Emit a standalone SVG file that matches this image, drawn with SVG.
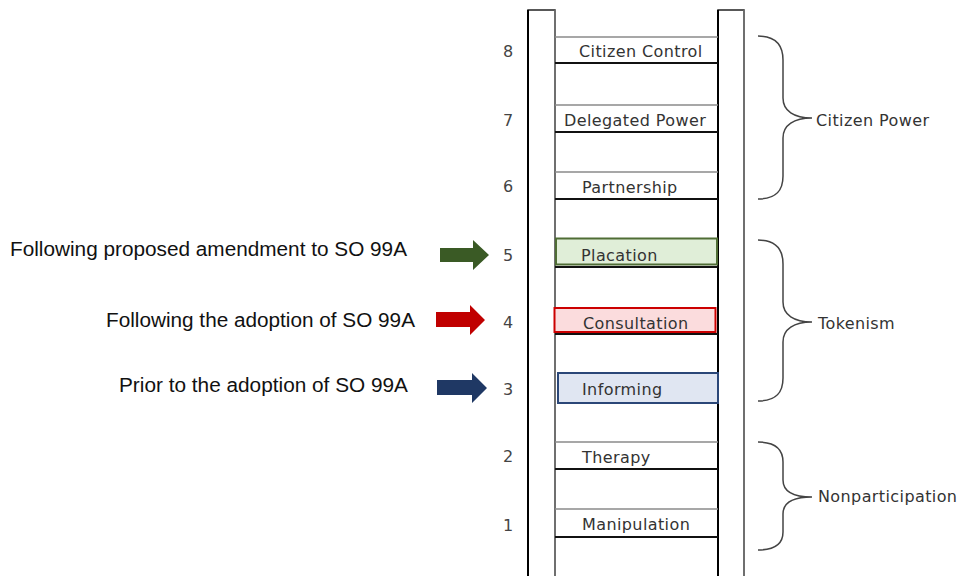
<svg xmlns="http://www.w3.org/2000/svg" width="962" height="576" viewBox="0 0 962 576">
<style>
.rail{fill:#fff;stroke:#222;stroke-width:1.5}
.rtop{stroke:#8a8a8a;stroke-width:1.5}
.rbot{stroke:#111;stroke-width:2.2}
.lbl{font-family:"DejaVu Sans",sans-serif;font-size:16px;fill:#333;letter-spacing:0.4px}
.num{font-family:"DejaVu Sans",sans-serif;font-size:16px;fill:#444;text-anchor:middle}
.side{font-family:"Liberation Sans",Arial,sans-serif;font-size:19.5px;fill:#111}
.brace{fill:none;stroke:#444;stroke-width:1.5}
</style>
<rect width="962" height="576" fill="#fff"/>
<g id="ladder">
<rect class="rail" x="528" y="10" width="27" height="580"/>
<rect class="rail" x="718" y="10" width="26" height="580"/>
<line x1="528" y1="10" x2="528" y2="576" stroke="#000" stroke-width="2"/>
<line x1="718" y1="10" x2="718" y2="576" stroke="#000" stroke-width="2"/>
<line x1="744" y1="10" x2="744" y2="576" stroke="#777" stroke-width="1.5"/>
<line x1="555" y1="10" x2="555" y2="576" stroke="#777" stroke-width="1.5"/>
</g>
<g id="rung8">
<line class="rtop" x1="555" y1="37" x2="718" y2="37"/>
<line class="rbot" x1="555" y1="63" x2="718" y2="63"/>
<text class="num" x="508" y="57">8</text>
<text class="lbl" x="579" y="57">Citizen Control</text>
</g>
<g id="rung7">
<line class="rtop" x1="555" y1="105" x2="718" y2="105"/>
<line class="rbot" x1="555" y1="132" x2="718" y2="132"/>
<text class="num" x="508" y="126">7</text>
<text class="lbl" x="564" y="126">Delegated Power</text>
</g>
<g id="rung6">
<line class="rtop" x1="555" y1="172" x2="718" y2="172"/>
<line class="rbot" x1="555" y1="199" x2="718" y2="199"/>
<text class="num" x="508" y="192">6</text>
<text class="lbl" x="582" y="193">Partnership</text>
</g>
<g id="rung5">
<rect x="556" y="238.5" width="161" height="26" fill="#e0eed8" stroke="#4f6d35" stroke-width="2"/>
<line class="rbot" x1="555" y1="267" x2="718" y2="267"/>
<text class="num" x="508" y="261">5</text>
<text class="lbl" x="581" y="261">Placation</text>
</g>
<g id="rung4">
<rect x="554.5" y="308" width="161" height="24" fill="#fbdcdd" stroke="#cc0000" stroke-width="2"/>
<line class="rbot" x1="555" y1="334" x2="718" y2="334"/>
<text class="num" x="508" y="328">4</text>
<text class="lbl" x="583" y="329">Consultation</text>
</g>
<g id="rung3">
<rect x="558" y="373" width="160" height="30" fill="#e0e6f2" stroke="#2b4778" stroke-width="2"/>
<text class="num" x="508" y="395">3</text>
<text class="lbl" x="582" y="395">Informing</text>
</g>
<g id="rung2">
<line class="rtop" x1="555" y1="442" x2="718" y2="442"/>
<line class="rbot" x1="555" y1="469" x2="718" y2="469"/>
<text class="num" x="508" y="462">2</text>
<text class="lbl" x="582" y="463">Therapy</text>
</g>
<g id="rung1">
<line class="rtop" x1="555" y1="509" x2="718" y2="509"/>
<line class="rbot" x1="555" y1="537" x2="718" y2="537"/>
<text class="num" x="508" y="531">1</text>
<text class="lbl" x="582" y="530">Manipulation</text>
</g>
<g id="connectors">
<path class="brace" d="M758,36 C776,36 783,45 783,60 L783,98 C783,111 794,118 812,118 C794,118 783,125 783,138 L783,176 C783,191 776,199 758,199"/>
<path class="brace" d="M758,240 C776,240 783,249 783,264 L783,302 C783,315 794,322 812,322 C794,322 783,329 783,342 L783,378 C783,393 776,401 758,401"/>
<path class="brace" d="M758,442 C776,442 783,450 783,462 L783,480 C783,491 792,497 812,497 C792,497 783,503 783,514 L783,532 C783,543 776,550 758,550"/>
<polygon points="440,248 473,248 473,240 489,255 473,270 473,262 440,262" fill="#3a5a25"/>
<polygon points="436,312 470,312 470,305 485,320 470,335 470,327 436,327" fill="#c00000"/>
<polygon points="437,380 472,380 472,373 487,388 472,403 472,395 437,395" fill="#1f3864"/>
</g>
<g id="groups">
<text class="lbl" x="816" y="126">Citizen Power</text>
<text class="lbl" x="818" y="329">Tokenism</text>
<text class="lbl" x="818" y="502">Nonparticipation</text>
</g>
<g id="notes">
<text class="side" x="10" y="256" textLength="397" lengthAdjust="spacingAndGlyphs">Following proposed amendment to SO 99A</text>
<text class="side" x="106" y="327" textLength="309" lengthAdjust="spacingAndGlyphs">Following the adoption of SO 99A</text>
<text class="side" x="119" y="392" textLength="289" lengthAdjust="spacingAndGlyphs">Prior to the adoption of SO 99A</text>
</g>
</svg>
